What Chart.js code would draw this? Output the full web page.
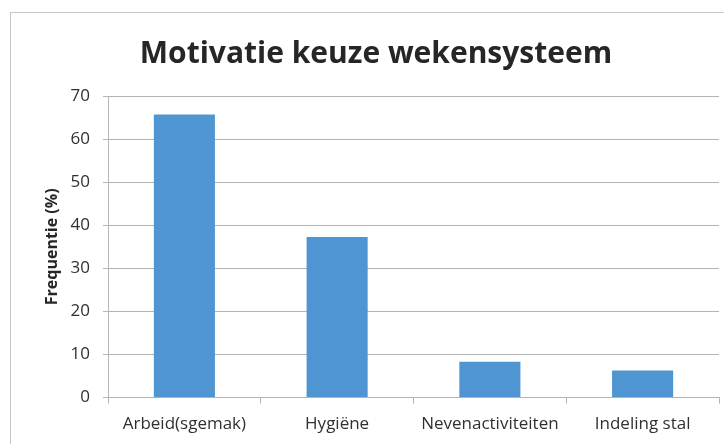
<!DOCTYPE html>
<html>
<head>
<meta charset="utf-8">
<script src="https://cdn.jsdelivr.net/npm/chart.js@4"></script>
<style>
  html, body { margin: 0; padding: 0; background: #fff; }
  #wrap { width: 724px; height: 444px; position: relative; }
</style>
</head>
<body>
<div id="wrap"><canvas id="motivatieChart" width="724" height="444"></canvas></div>
<script>
const categories = ['Arbeid(sgemak)', 'Hygiëne', 'Nevenactiviteiten', 'Indeling stal'];
const frequentie = [65.7, 37.3, 8.3, 6.3];
const yTicks = [0, 10, 20, 30, 40, 50, 60, 70];

const fontName = '"Open Sans", sans-serif';

// witte achtergrond + kader zoals in Excel
const frame = {
    id: 'frame',
    beforeDraw(chart) {
        const c = chart.ctx;
        c.save();
        c.fillStyle = '#fff';
        c.fillRect(0, 0, chart.width, chart.height);
        c.strokeStyle = '#c6c6c6';
        c.lineWidth = 1;
        c.strokeRect(10.5, 12.5, chart.width + 20, chart.height + 20);
        c.restore();
    }
};

const ctx = document.getElementById('motivatieChart').getContext('2d');
const motivatieChart = new Chart(ctx, {
    type: 'bar',
    data: {
        labels: categories,
        datasets: [{
            label: 'Frequentie (%)',
            data: frequentie,
            backgroundColor: '#4f95d1',
            borderWidth: 0,
            barPercentage: 0.4,
            categoryPercentage: 1
        }]
    },
    options: {
        responsive: false,
        animation: false,
        layout: {
            padding: { top: 12, right: 5, bottom: 0, left: 33 }
        },
        plugins: {
            legend: { display: false },
            tooltip: { enabled: false },
            title: {
                display: true,
                text: 'Motivatie keuze wekensysteem',
                color: '#262626',
                font: { family: fontName, size: 30, weight: 'bold' },
                padding: { top: 24, bottom: 24 }
            }
        },
        scales: {
            x: {
                grid: {
                    offset: true,
                    drawOnChartArea: false,
                    drawTicks: true,
                    tickLength: 6,
                    color: '#b4b4b4'
                },
                border: { color: '#b4b4b4' },
                ticks: {
                    color: '#303030',
                    padding: 10,
                    maxRotation: 0,
                    font: { family: fontName, size: 17 }
                }
            },
            y: {
                min: 0,
                max: 70,
                afterBuildTicks(scale) {
                    scale.ticks = yTicks.map(v => ({ value: v }));
                },
                afterFit(scale) {
                    scale.width = 75;
                },
                grid: {
                    color: '#b4b4b4',
                    tickLength: 5
                },
                border: { color: '#b4b4b4' },
                ticks: {
                    color: '#303030',
                    padding: 13,
                    font: { family: fontName, size: 17 }
                },
                title: {
                    display: true,
                    text: 'Frequentie (%)',
                    color: '#262626',
                    font: { family: fontName, size: 16, weight: 'bold' },
                    padding: { top: 10, bottom: 0 }
                }
            }
        }
    },
    plugins: [frame]
});
</script>
</body>
</html>
